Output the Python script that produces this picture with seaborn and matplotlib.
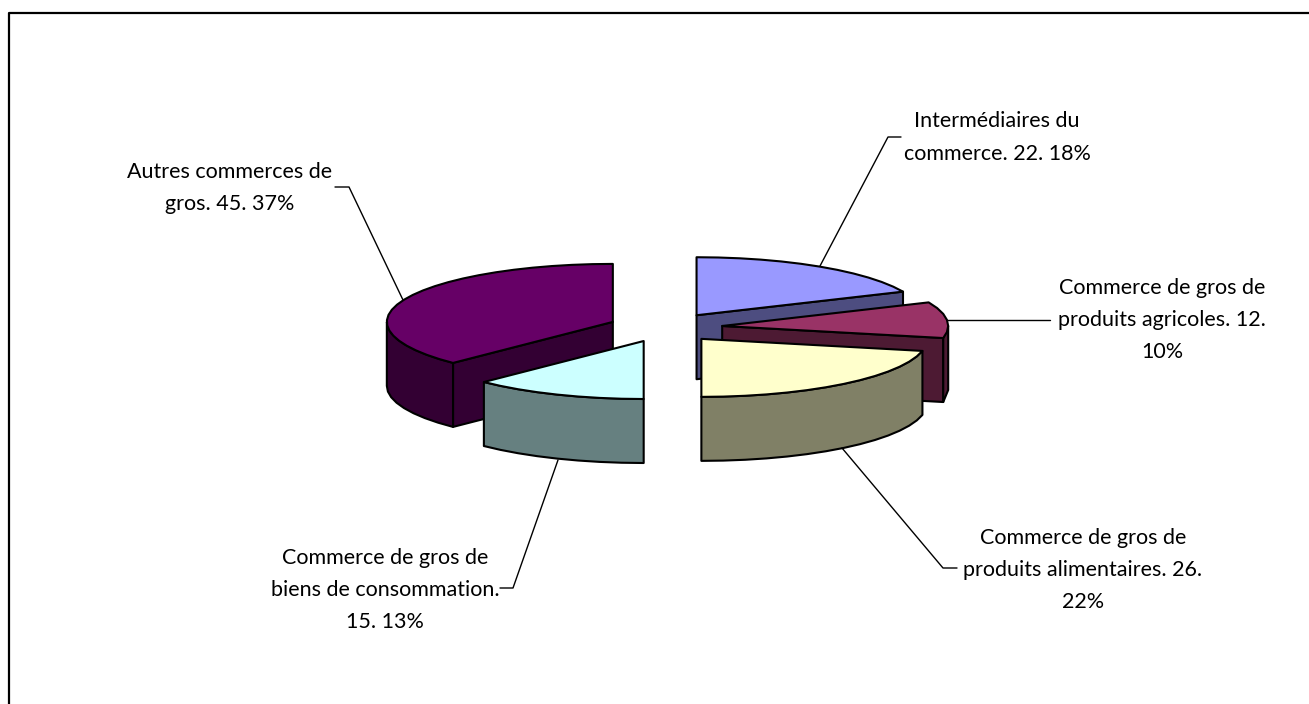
"""Exploded 3D-style pie of wholesale trade categories."""

import matplotlib

matplotlib.use("Agg")
import matplotlib.pyplot as plt
import numpy as np
import seaborn as sns

# pie order: clockwise from twelve o'clock
CATEGORIES = [
    "Intermédiaires du\ncommerce. 22. 18%",
    "Commerce de gros de\nproduits agricoles. 12.\n10%",
    "Commerce de gros de\nproduits alimentaires. 26.\n22%",
    "Commerce de gros de\nbiens de consommation.\n15. 13%",
    "Autres commerces de\ngros. 45. 37%",
]
VALUES = [22, 12, 26, 15, 45]
TOP_COLORS = ["#9999FF", "#993366", "#FFFFCC", "#CCFFFF", "#660066"]
SIDE_COLORS = ["#4D4D80", "#4D1A33", "#808066", "#668080", "#330033"]

# layout, in pixels of the 1309x704 picture
CENTER = (665.5, 327.5)
RADIUS_X, RADIUS_Y = 226, 58
DEPTH = 64
EXPLODE = 57
LABEL_POS = [(997, 137.5), (1162, 320), (1083, 570), (385, 590), (230, 188)]
LEADERS = [
    ([901, 888, 820], [137, 137, 266]),
    ([1050, 947], [320, 320]),
    ([957, 943, 842], [568, 568, 448]),
    ([500, 513, 558], [588, 588, 460]),
    ([335, 349, 403], [187, 187, 300]),
]
DRAW_ORDER = [4, 0, 1, 3, 2]

sns.set_theme(style="white")
plt.rcParams["font.family"] = ["Lato", "DejaVu Sans"]

fig = plt.figure(figsize=(13.09, 7.04), dpi=100)
ax = fig.add_axes([0, 0, 1, 1])

# frame only shows on the top and left, the rest was cropped away
ax.plot([9, 9, 1309], [704, 12.5, 12.5], color="black", lw=1.6, solid_capstyle="butt")

bounds = np.cumsum([0] + VALUES) / sum(VALUES) * 2 * np.pi


def rim(cx, cy, a, b):
    t = np.linspace(a, b, max(int(np.degrees(b - a) / 5), 2))
    return cx + RADIUS_X * np.sin(t), cy - RADIUS_Y * np.cos(t)


for i in DRAW_ORDER:
    start, end = bounds[i], bounds[i + 1]
    mid = (start + end) / 2
    cx = CENTER[0] + EXPLODE * np.sin(mid)
    cy = CENTER[1] - EXPLODE * RADIUS_Y / RADIUS_X * np.cos(mid)
    style = dict(facecolor=SIDE_COLORS[i], edgecolor="black", lw=1.5, joinstyle="round")

    # flat cut faces that turn towards the viewer
    for angle, visible in ((start, np.sin(start) < -1e-6), (end, np.sin(end) > 1e-6)):
        if visible:
            ex, ey = rim(cx, cy, angle, angle)
            ax.fill([cx, ex[0], ex[0], cx], [cy, ey[0], ey[0] + DEPTH, cy + DEPTH], **style)

    # outer wall, front half only
    a, b = max(start, np.pi / 2), min(end, 3 * np.pi / 2)
    if a < b:
        wx, wy = rim(cx, cy, a, b)
        ax.fill(np.r_[wx, wx[::-1]], np.r_[wy, wy[::-1] + DEPTH], **style)

    tx, ty = rim(cx, cy, start, end)
    ax.fill(np.r_[cx, tx], np.r_[cy, ty], facecolor=TOP_COLORS[i], edgecolor="black",
            lw=1.5, joinstyle="round")

for lx, ly in LEADERS:
    sns.lineplot(x=lx, y=ly, sort=False, estimator=None, color="black", lw=1, ax=ax)

for (x, y), label in zip(LABEL_POS, CATEGORIES):
    ax.text(x, y, label, ha="center", va="center", multialignment="center",
            fontsize=15.5, linespacing=1.78, color="black")

ax.set_xlim(0, 1309)
ax.set_ylim(704, 0)
ax.axis("off")
fig.savefig("out.png", dpi=100)
